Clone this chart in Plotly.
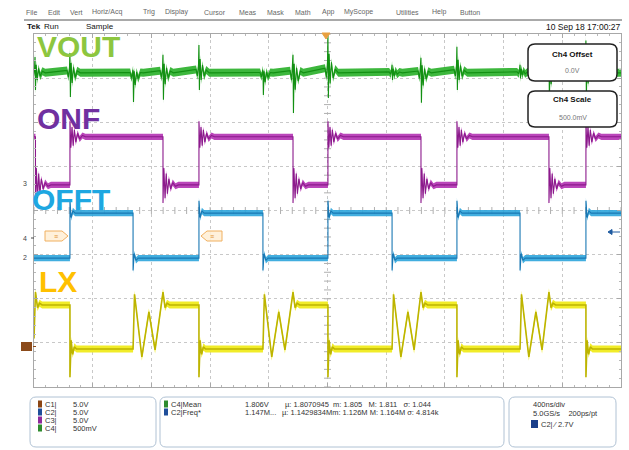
import plotly.graph_objects as go

# ---------------- data (time in ns, 400 ns/div; vertical in screen divisions) ----------------
ONF_RISE = [-1755, -876, 3, 882, 1761]        # ONF rising (= OFFT rising, LX falling)
ONF_FALL = [-1990, -1121, -235, 637, 1509]     # ONF falling (= LX final rise)
OFFT_FALL = [-1325, -440, 440, 1312]           # OFFT falling (= start of LX ringing)

ONF_HIGH, ONF_LOW = 1.67, 0.58
OFFT_HIGH, OFFT_LOW = -0.06, -1.08
LX_HIGH, LX_LOW, LX_START = -2.14, -3.14, -2.9
VOUT_BASE = 3.12

# ringing (dt in ns, deviation in divisions)
RING_DT = [0, 6, 14, 22, 30, 40, 52, 66, 85, 105]
ONF_RISE_RING = [0.35, -0.25, 0.22, -0.2, 0.16, -0.12, 0.08, -0.05, 0.03, 0.0]
ONF_FALL_RING = [-0.41, 0.38, -0.3, 0.26, -0.2, 0.14, -0.09, 0.05, -0.03, 0.0]
OFFT_EDGE_DT = [0, 8, 20, 35]
OFFT_RISE_RING = [0.28, -0.1, 0.05, 0.0]
OFFT_FALL_RING = [-0.28, 0.1, -0.05, 0.0]
LX_FALL_DT = [0, 8, 18, 30, 45]
LX_FALL_RING = [-0.64, 0.2, -0.12, 0.05, 0.0]
LX_OSC_DT = [0, 10, 60, 108, 150]
LX_OSC_V = [-3.14, -1.9, -3.32, -2.3, -3.16]
LX_RISE_DT = [0, 14, 28, 45]
LX_RISE_RING = [0.29, -0.06, 0.04, 0.0]

VOUT_SPIKE_T = [-1993, -1755, -1325, -1121, -876, -440, -235, 3, 440, 637, 882, 1312, 1509, 1761]
VOUT_SPIKE_TOP = [3.48, 3.57, 3.19, 3.53, 3.75, 3.19, 3.53, 3.98, 3.30, 3.46, 3.71, 3.30, 3.55, 3.85]
VOUT_SPIKE_BOT = [2.73, 2.57, 2.46, 2.51, 2.73, 2.62, 2.21, 2.55, 2.96, 2.44, 2.73, 3.00, 2.51, 2.55]
VOUT_BURST_DT = [-20, -10, -3, 0, 3, 8, 15, 24, 35, 50, 70]
VOUT_BURST_F = [0.12, -0.18, 0.3, 1.0, -1.0, 0.5, -0.42, 0.28, -0.2, 0.1, 0.0]

MENU = ["File", "Edit", "Vert", "Horiz/Acq", "Trig", "Display", "Cursor", "Meas", "Mask",
        "Math", "App", "MyScope", "Utilities", "Help", "Button"]
MENU_X = [24, 46, 68, 90, 141, 163, 202, 237, 265, 293, 320, 342, 394, 430, 458]

CH_NAMES = ["C1|", "C2|", "C3|", "C4|"]
CH_SCALE = ["5.0V", "5.0V", "5.0V", "500mV"]
CH_COLORS = ["#8b4513", "#1f4e9a", "#8e2a9c", "#2e8b2e"]

MEAS_ROWS = [("C4|Mean", "1.806V", "µ: 1.8070945  m: 1.805   M: 1.811   σ: 1.044", "#2e8b2e"),
             ("C2|Freq*", "1.147M...", "µ: 1.1429834Mm: 1.126M M: 1.164M σ: 4.814k", "#1f4e9a")]

# ---------------- geometry ----------------
W, H = 629, 450
L, R, T, B = 34, 8, 34, 63
PW, PH = W - L - R, H - T - B


def px(x):
    return (x - L) / PW


def py(y):
    return (H - B - y) / PH


# ---------------- waveform building from read values ----------------
def build_two_level(rises, falls, start, hi, lo, dts, rring, fring):
    ev = sorted([(t, 'r') for t in rises] + [(t, 'f') for t in falls])
    xs, ys = [-2000], [start]
    level = start
    for t, k in ev:
        xs.append(t); ys.append(level)
        new = hi if k == 'r' else lo
        ring = rring if k == 'r' else fring
        for dt, dv in zip(dts, ring):
            xs.append(t + dt); ys.append(new + dv)
        level = new
    xs.append(2000); ys.append(level)
    return xs, ys


onf_x, onf_y = build_two_level(ONF_RISE, ONF_FALL, ONF_HIGH, ONF_HIGH, ONF_LOW,
                               RING_DT, ONF_RISE_RING, ONF_FALL_RING)
offt_x, offt_y = build_two_level(ONF_RISE, OFFT_FALL, OFFT_LOW, OFFT_HIGH, OFFT_LOW,
                                 OFFT_EDGE_DT, OFFT_RISE_RING, OFFT_FALL_RING)

# LX
ev = sorted([(t, 'rise') for t in ONF_RISE] + [(t, 'off') for t in OFFT_FALL] +
            [(t, 'fall') for t in ONF_FALL])
lx_x, lx_y = [-2000], [LX_START]
level = LX_START
for t, k in ev:
    if k == 'rise':
        lx_x.append(t); lx_y.append(level)
        for dt, dv in zip(LX_FALL_DT, LX_FALL_RING):
            lx_x.append(t + dt); lx_y.append(LX_LOW + dv)
        level = LX_LOW
    elif k == 'off':
        for dt, v in zip(LX_OSC_DT, LX_OSC_V):
            lx_x.append(t + dt); lx_y.append(v)
        level = LX_OSC_V[-1]
    else:
        for dt, dv in zip(LX_RISE_DT, LX_RISE_RING):
            lx_x.append(t + dt); lx_y.append(LX_HIGH + dv)
        level = LX_HIGH
lx_x.append(2000); lx_y.append(level)

# VOUT
vout_x, vout_y = [-2000], [VOUT_BASE]
for t, top, bot in zip(VOUT_SPIKE_T, VOUT_SPIKE_TOP, VOUT_SPIKE_BOT):
    for dt, f in zip(VOUT_BURST_DT, VOUT_BURST_F):
        v = VOUT_BASE + f * (top - VOUT_BASE) if f >= 0 else VOUT_BASE + f * (VOUT_BASE - bot)
        vout_x.append(t + dt); vout_y.append(v)
vout_x.append(2000); vout_y.append(VOUT_BASE)

fig = go.Figure()


def add_trace(xs, ys, half, band, core, cw=1.1):
    fig.add_trace(go.Scatter(x=xs, y=[v + half for v in ys], mode='lines',
                             line=dict(width=0, color=band), hoverinfo='skip', showlegend=False))
    fig.add_trace(go.Scatter(x=xs, y=[v - half for v in ys], mode='lines', fill='tonexty',
                             fillcolor=band, line=dict(width=0, color=band),
                             hoverinfo='skip', showlegend=False))
    fig.add_trace(go.Scatter(x=xs, y=ys, mode='lines', line=dict(width=cw, color=core),
                             hoverinfo='skip', showlegend=False))


# center crosshair ticks
cx = [i * 80 for i in range(-25, 26)]
cy = [i * 0.2 for i in range(-20, 21)]
fig.add_trace(go.Scatter(x=cx, y=[0] * len(cx), mode='markers',
                         marker=dict(symbol='line-ns', size=5, line=dict(width=1, color='#b0b0b0')),
                         hoverinfo='skip', showlegend=False))
fig.add_trace(go.Scatter(x=[0] * len(cy), y=cy, mode='markers',
                         marker=dict(symbol='line-ew', size=5, line=dict(width=1, color='#b0b0b0')),
                         hoverinfo='skip', showlegend=False))

add_trace(vout_x, vout_y, 0.09, 'rgba(40,175,40,0.9)', '#139013')
add_trace(onf_x, onf_y, 0.07, 'rgba(178,50,178,0.9)', '#8c1a8c')
add_trace(offt_x, offt_y, 0.07, 'rgba(45,165,220,0.9)', '#1a78b4')
add_trace(lx_x, lx_y, 0.08, 'rgba(240,235,30,0.95)', '#bdb400', 1.6)

shapes = []
ann = []


def text(x, y, s, size=7.5, color='#333', anchor='left', bold=False, family='Liberation Sans'):
    if bold:
        s = '<b>' + s + '</b>'
    ann.append(dict(x=px(x), y=py(y), xref='paper', yref='paper', text=s, showarrow=False,
                    xanchor=anchor, yanchor='middle',
                    font=dict(size=size, color=color, family=family)))


def rrect(x0, y0, x1, y1, r, line, fill, lw=1):
    X0, X1, Y0, Y1 = px(x0), px(x1), py(y0), py(y1)
    rx, ry = r / PW, r / PH
    p = (f"M {X0+rx} {Y0} L {X1-rx} {Y0} Q {X1} {Y0} {X1} {Y0-ry} "
         f"L {X1} {Y1+ry} Q {X1} {Y1} {X1-rx} {Y1} L {X0+rx} {Y1} "
         f"Q {X0} {Y1} {X0} {Y1+ry} L {X0} {Y0-ry} Q {X0} {Y0} {X0+rx} {Y0} Z")
    shapes.append(dict(type='path', path=p, xref='paper', yref='paper',
                       line=dict(color=line, width=lw), fillcolor=fill, layer='above'))


def rect(x0, y0, x1, y1, fill, line=None):
    shapes.append(dict(type='rect', xref='paper', yref='paper', x0=px(x0), x1=px(x1),
                       y0=py(y1), y1=py(y0), fillcolor=fill,
                       line=dict(width=0 if line is None else 1, color=line or fill), layer='above'))


def seg(x0, y0, x1, y1, color, w=1):
    shapes.append(dict(type='line', xref='paper', yref='paper', x0=px(x0), x1=px(x1),
                       y0=py(y0), y1=py(y1), line=dict(color=color, width=w), layer='above'))


def poly(pts, line, fill):
    p = 'M ' + ' L '.join(f"{px(a)} {py(b)}" for a, b in pts) + ' Z'
    shapes.append(dict(type='path', path=p, xref='paper', yref='paper',
                       line=dict(color=line, width=1), fillcolor=fill, layer='above'))


# header
for m, x in zip(MENU, MENU_X):
    text(x, 12, m, size=7, color='#666')
seg(24, 20, 622, 20, '#555', 1)
text(25, 27, 'Tek', size=8, color='#111', bold=True)
text(42, 27, 'Run', size=8, color='#111')
text(84, 27, 'Sample', size=8, color='#111')
text(622, 27, '10 Sep 18 17:00:27', size=8.5, color='#111', anchor='right')

# channel labels
text(35, 46, 'VOUT', size=30, color='#8dc63f', bold=True)
text(35, 118, 'ONF', size=30, color='#7030a0', bold=True)
text(30, 199, 'OFFT', size=30, color='#1ea7e1', bold=True)
text(37, 281, 'LX', size=30, color='#ffc000', bold=True)

# left markers
text(29, 184, '3', size=7, color='#444', anchor='right')
text(29, 238, '4', size=7, color='#444', anchor='right')
seg(31, 238, 34, 238, '#444', 1)
text(29, 257, '2', size=7, color='#444', anchor='right')
rect(21, 342, 32, 351, '#8b4a1a')
seg(33, 346.5, 36, 346.5, '#8b4a1a', 1)
poly([(45, 231), (62, 231), (68, 236), (62, 241), (45, 241)], '#f0b060', 'rgba(255,240,215,0.9)')
poly([(222, 231), (207, 231), (201, 236), (207, 241), (222, 241)], '#f0b060', 'rgba(255,240,215,0.9)')
text(56, 236, '≡', size=7, color='#e09030', anchor='center')
text(212, 236, '≡', size=7, color='#e09030', anchor='center')
poly([(322, 33), (330, 33), (326, 39)], '#e8a040', '#e8a040')
seg(612, 232, 620, 232, '#1e5aa0', 1)
poly([(608, 232), (612, 229.5), (612, 234.5)], '#1e5aa0', '#1e5aa0')

# Ch4 boxes
rrect(528, 44, 617, 81, 7, '#222', 'white', 1.5)
text(572.5, 54, 'Ch4 Offset', size=8, color='#111', anchor='center', bold=True)
text(572.5, 71, '0.0V', size=7, color='#777', anchor='center')
rrect(528, 91, 617, 127, 7, '#222', 'white', 1.5)
text(572.5, 100, 'Ch4 Scale', size=8, color='#111', anchor='center', bold=True)
text(572.5, 117, '500.0mV', size=7, color='#777', anchor='center')

# bottom panel
rrect(30, 397, 156, 447, 6, '#b0c2d4', 'white', 1)
rrect(160, 397, 504, 447, 6, '#b0c2d4', 'white', 1)
rrect(509, 397, 616, 447, 6, '#b0c2d4', 'white', 1)
for i, (n, s, c) in enumerate(zip(CH_NAMES, CH_SCALE, CH_COLORS)):
    yy = 404 + i * 8
    rect(38, yy - 3.5, 42, yy + 3.5, c)
    text(43, yy, n, size=7.5)
    text(71, yy, s, size=7.5)
for i, (n, v, rest, c) in enumerate(MEAS_ROWS):
    yy = 404 + i * 8
    rect(164, yy - 3.5, 168, yy + 3.5, c)
    text(169, yy, n, size=7.5)
    text(243, yy, v, size=7.5)
    text(283 if i == 0 else 280, yy, rest, size=7.5)
text(531, 404, '400ns/div', size=7.5)
text(531, 414, '5.0GS/s    200ps/pt', size=7.5)
rect(531, 420, 538, 428, '#1a3f8a')
text(539, 424, 'C2| ⁄ 2.7V', size=7.5)

fig.update_layout(
    width=W, height=H, autosize=False,
    margin=dict(l=L, r=R, t=T, b=B, pad=0),
    paper_bgcolor='white', plot_bgcolor='white',
    showlegend=False,
    shapes=shapes, annotations=ann,
    xaxis=dict(range=[-2000, 2000], dtick=400, tick0=-2000, showgrid=True, gridcolor='#c8c8c8',
               griddash='dot', gridwidth=1, zeroline=False, showticklabels=False,
               showline=True, linecolor='#a8a8a8', linewidth=1, mirror='ticks',
               ticks='inside', ticklen=4, tickcolor='#a8a8a8',
               minor=dict(ticks='inside', ticklen=2, dtick=80, tickcolor='#b8b8b8', showgrid=False),
               fixedrange=True),
    yaxis=dict(range=[-4, 4], dtick=1, tick0=-4, showgrid=True, gridcolor='#c8c8c8',
               griddash='dot', gridwidth=1, zeroline=False, showticklabels=False,
               showline=True, linecolor='#a8a8a8', linewidth=1, mirror='ticks',
               ticks='inside', ticklen=4, tickcolor='#a8a8a8',
               minor=dict(ticks='inside', ticklen=2, dtick=0.2, tickcolor='#b8b8b8', showgrid=False),
               fixedrange=True),
)

fig.write_html("out.html", config={'displayModeBar': False},
               post_script="document.body.style.margin='0';document.body.style.overflow='hidden';")
